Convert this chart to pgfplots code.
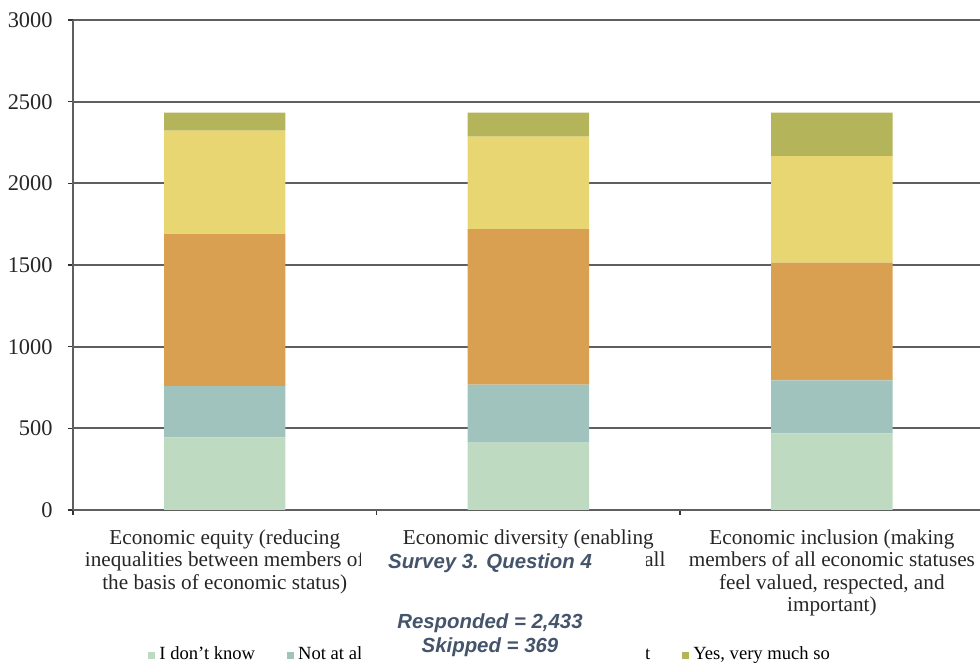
\documentclass[border=0pt]{standalone}
\usepackage{fontspec}
\setmainfont{Liberation Serif}
\newfontfamily\boxfont{Liberation Sans}
\usepackage{pgfplots}
\pgfplotsset{compat=1.18}

\definecolor{cknow}{RGB}{190,218,192}
\definecolor{cnot}{RGB}{160,196,189}
\definecolor{clittle}{RGB}{218,160,82}
\definecolor{csome}{RGB}{232,214,115}
\definecolor{cvery}{RGB}{180,181,90}
\definecolor{boxtext}{RGB}{68,84,106}
\definecolor{gridc}{RGB}{95,95,95}

\begin{document}
\begin{tikzpicture}
\begin{axis}[
at={(36.5pt,79.5pt)}, anchor=south west,
width=453.5pt, height=245pt, scale only axis,
xmin=-0.5, xmax=2.488,
ymin=0, ymax=3000,
ytick={0,500,1000,1500,2000,2500,3000},
/pgf/number format/1000 sep={},
/pgf/number format/assume math mode=true,
ybar stacked, bar width=0.4,
axis x line*=bottom, axis y line*=left,
axis line style={draw=gridc, line width=1pt},
tick align=outside, tick pos=left,
major tick length=2.5pt,
tick style={draw=black!80, line width=0.7pt},
ymajorgrids,
grid style={draw=gridc, line width=1pt},
xtick={-0.5,0.5,1.5}, xticklabels={,,},
extra x ticks={0,1,2},
extra x tick labels={{Economic equity (reducing\\inequalities between members of\\the basis of economic status)},
  {Economic diversity (enabling\\opportunities for members of all\\economic statuses)},
  {Economic inclusion (making\\members of all economic statuses\\feel valued, respected, and\\important)}},
extra x tick style={major tick length=0pt, tick style={draw=none}},
xticklabel style={align=center, anchor=north, inner sep=0pt, yshift=-9.5pt,
  font=\fontsize{10.6}{11.25}\selectfont},
yticklabel style={anchor=east, inner sep=0pt, xshift=-7.5pt,
  font=\fontsize{11.2}{12}\selectfont},
tick label style={text=black!85},
legend columns=-1,
legend style={at={(0.0827,-0.296)}, anchor=west, draw=none, fill=none, inner sep=0pt,
  font=\fontsize{9.3}{11}\selectfont,
  /tikz/every even column/.append style={column sep=14pt}},
legend image code/.code={\path[#1,draw=none] (0pt,-1.75pt) rectangle (3.5pt,1.75pt);},
]
\addplot[fill=cknow, draw=none] coordinates {(0,444) (1,413) (2,469)};
\addplot[fill=cnot, draw=none] coordinates {(0,315) (1,354) (2,325)};
\addplot[fill=clittle, draw=none] coordinates {(0,930) (1,953) (2,720)};
\addplot[fill=csome, draw=none] coordinates {(0,634) (1,566) (2,653)};
\addplot[fill=cvery, draw=none] coordinates {(0,110) (1,147) (2,266)};
\legend{I don't know, Not at all, A little, {Yes, to some extent}, {Yes, very much so}}
\end{axis}
% white box pasted over the chart
\fill[white] (180.5pt,0pt) rectangle (323pt,60.5pt);
\begin{scope}[every node/.style={text=boxtext, font=\boxfont\bfseries\itshape\fontsize{10.2}{12}\selectfont, anchor=base, inner sep=0pt}]
\node at (245pt,50.3pt) {Survey 3. Question 4};
\node at (245pt,20.3pt) {Responded = 2,433};
\node at (245pt,8.3pt) {Skipped = 369};
\end{scope}
\pgfresetboundingbox
\path (0,0) rectangle (490pt,334.5pt);
\end{tikzpicture}
\end{document}
